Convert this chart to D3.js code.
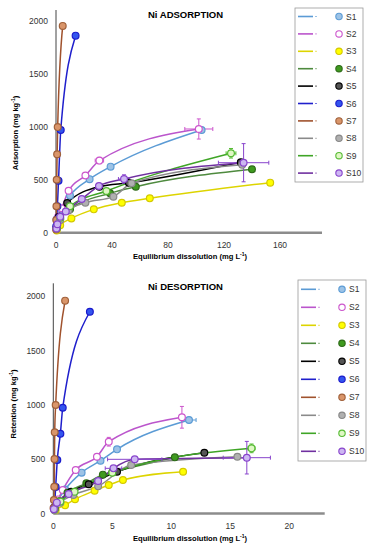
<!DOCTYPE html>
<html>
<head>
<meta charset="utf-8">
<script src="https://cdn.jsdelivr.net/npm/d3@7"></script>
<style>
  body { margin: 0; background: #fff; }
  svg { font-family: "Liberation Sans", Arial, sans-serif; }
</style>
</head>
<body>
<svg id="chart" width="376" height="550"></svg>
<script>
var series_names = ['S1','S2','S3','S4','S5','S6','S7','S8','S9','S10'];
var line_colors = ['#5b9bd5','#bb55cc','#ddd400','#4e8a3e','#000000','#1f1fcc','#a0522d','#8a8a8a','#3fa526','#7030a0'];
var fill_colors = ['#9dc3e6','#ffffff','#ffff00','#3f9a1f','#555555','#3355ee','#d9956a','#b0b0b0','#dff7c4','#cdb7f2'];
var edge_colors = ['#5b9bd5','#cc55cc','#d4c800','#2d6a18','#000000','#1a1acc','#a0603a','#888888','#55bb33','#8844cc'];

// adsorption: [equilibrium conc, adsorbed]
var ads_S1 = [[0.3,40],[1.5,130],[4,220],[10,350],[24,505],[39,623],[104,969]];
var ads_S2 = [[0.3,50],[1.5,150],[4,230],[9,395],[21,540],[31,680],[102,978]];
var ads_S3 = [[0.5,20],[3,70],[11,135],[27,220],[47,283],[67,324],[153,472]];
var ads_S4 = [[0.5,40],[3,130],[10,220],[38.6,372],[57,434],[140,598]];
var ads_S5 = [[0.5,50],[2,150],[8,280],[31,434],[52,470],[132,665]];
var ads_S6 = [[0.2,60],[0.5,125],[1,250],[1.8,490],[3.4,969],[14,1858]];
var ads_S7 = [[0.1,30],[0.2,120],[0.3,250],[0.5,500],[0.8,740],[1.2,996],[4.8,1950]];
var ads_S8 = [[0.5,40],[3,120],[9,210],[21,283],[41,340],[54,466],[133,640]];
var ads_S9 = [[0.5,45],[3,140],[10,250],[36,393],[125,749]];
var ads_S10 = [[0.3,40],[1,80],[3,150],[7,200],[18.4,318],[30.7,440],[48.6,506],[134,660]];
// [series index, x, y, x error, y error]
var ads_err = [[1,31,680,3,30],[1,102,978,10,95],[8,125,749,3.5,45],[9,48.6,506,4,40],[9,134,660,18,180]];

// desorption: [equilibrium conc, retained]
var des_S1 = [[0.1,40],[0.4,120],[1,220],[2.4,376],[4,486],[5.4,591],[11.5,861]];
var des_S2 = [[0.1,50],[0.4,130],[0.8,216],[1.9,400],[3.7,523],[4.7,661],[10.9,886]];
var des_S3 = [[0.2,30],[1.0,76],[1.84,131],[3.5,210],[4.7,262],[5.9,308],[11,385]];
var des_S4 = [[0.1,40],[0.5,110],[1.2,190],[2.8,278],[4.2,358],[5,380],[10.3,517]];
var des_S5 = [[0.1,40],[0.5,110],[1.5,200],[3,270],[5.4,385],[12.8,560]];
var des_S6 = [[0.1,60],[0.2,244],[0.34,493],[0.6,735],[0.8,974],[3.1,1858]];
var des_S7 = [[0.02,50],[0.05,124],[0.08,247],[0.1,502],[0.12,748],[0.2,999],[1.0,1960]];
var des_S8 = [[0.1,30],[0.6,100],[1.7,170],[3.8,250],[6.6,447],[15.6,523]];
var des_S9 = [[0.1,40],[0.6,110],[1.8,200],[5,376],[16.8,600]];
var des_S10 = [[0.05,40],[0.3,100],[1.3,180],[3.8,299],[5.1,416],[6.9,499],[16.4,514]];
var des_err = [[0,11.5,861,0.6,0],[1,10.9,886,0,100],[1,4.7,661,0,40],[6,1.0,1960,0.2,0],
               [4,12.8,560,0,20],[8,16.8,600,0.3,40],[9,16.4,514,2,150],[9,6.9,499,2.3,0],[9,5.1,416,0.7,0]];

var ads_ticks_x = [0,40,80,120,160];
var des_ticks_x = [0,5,10,15,20];
var y_ticks = [0,500,1000,1500,2000];

var svg = d3.select('#chart');

function draw_panel(cfg) {
  var g = svg.append('g');
  var x = d3.scaleLinear().domain(cfg.xdom).range([cfg.left, cfg.right]);
  var y = d3.scaleLinear().domain(cfg.ydom).range([cfg.bottom, cfg.top]);

  // axes
  g.append('line').attr('x1', x(0)).attr('x2', x(0)).attr('y1', y(0)).attr('y2', y(cfg.ydom[1]))
    .style('stroke', '#444').style('stroke-width', 1);
  g.append('line').attr('x1', x(0)).attr('x2', x(cfg.xdom[1])).attr('y1', y(0)).attr('y2', y(0))
    .style('stroke', '#8c8c8c').style('stroke-width', 2.5);

  g.selectAll('.ytick').data(y_ticks).enter().append('text')
    .attr('x', x(0) - 8).attr('y', d => y(d) + 3)
    .attr('text-anchor', 'end').style('font-size', '8.5px').style('fill', '#333')
    .text(d => d);
  g.selectAll('.xtick').data(cfg.xticks).enter().append('text')
    .attr('x', d => x(d)).attr('y', cfg.bottom + 15)
    .attr('text-anchor', 'middle').style('font-size', '8.5px').style('fill', '#333')
    .text(d => d);

  g.append('text').attr('x', 148).attr('y', cfg.title_y)
    .style('font-size', '9.5px').style('font-weight', 'bold').text(cfg.title);
  g.append('text').attr('x', 190).attr('y', cfg.xlabel_y).attr('text-anchor', 'middle')
    .style('font-size', '7.6px').style('font-weight', 'bold')
    .html('Equilibrium dissolution (mg L<tspan dy="-3" font-size="5px">-1</tspan><tspan dy="3">)</tspan>');
  g.append('text').attr('transform', 'translate(' + cfg.ylabel_x + ',' + cfg.ylabel_y + ') rotate(-90)')
    .attr('text-anchor', 'middle').style('font-size', '7.6px').style('font-weight', 'bold')
    .html(cfg.ylabel + ' (mg kg<tspan dy="-3" font-size="5px">-1</tspan><tspan dy="3">)</tspan>');

  var line = d3.line().x(d => x(d[0])).y(d => y(d[1])).curve(d3.curveMonotoneX);
  var lines_g = g.append('g');
  var err_g = g.append('g');
  var pts_g = g.append('g');

  cfg.data.forEach(function(pts, i) {
    lines_g.append('path').datum([[0,0]].concat(pts))
      .attr('d', line).style('fill', 'none')
      .style('stroke', line_colors[i]).style('stroke-width', 1.5);
  });

  cfg.err.forEach(function(e) {
    var c = edge_colors[e[0]];
    if (e[3] > 0) {
      err_g.append('line').attr('x1', x(e[1]-e[3])).attr('x2', x(e[1]+e[3])).attr('y1', y(e[2])).attr('y2', y(e[2]))
        .style('stroke', c).style('stroke-width', 1);
      [e[1]-e[3], e[1]+e[3]].forEach(function(v) {
        err_g.append('line').attr('x1', x(v)).attr('x2', x(v)).attr('y1', y(e[2])-2).attr('y2', y(e[2])+2)
          .style('stroke', c).style('stroke-width', 1);
      });
    }
    if (e[4] > 0) {
      err_g.append('line').attr('x1', x(e[1])).attr('x2', x(e[1])).attr('y1', y(e[2]-e[4])).attr('y2', y(e[2]+e[4]))
        .style('stroke', c).style('stroke-width', 1);
      [e[2]-e[4], e[2]+e[4]].forEach(function(v) {
        err_g.append('line').attr('x1', x(e[1])-2).attr('x2', x(e[1])+2).attr('y1', y(v)).attr('y2', y(v))
          .style('stroke', c).style('stroke-width', 1);
      });
    }
  });

  cfg.data.forEach(function(pts, i) {
    pts_g.selectAll('.pt' + i).data(pts).enter().append('circle')
      .attr('cx', d => x(d[0])).attr('cy', d => y(d[1])).attr('r', 3.4)
      .style('fill', fill_colors[i]).style('stroke', edge_colors[i]).style('stroke-width', 1.2);
  });

  // legend
  var lg = g.append('g');
  lg.append('rect').attr('x', cfg.leg_x).attr('y', cfg.leg_y).attr('width', 68).attr('height', cfg.leg_h)
    .style('fill', '#fff').style('stroke', '#999').style('stroke-width', 0.8);
  series_names.forEach(function(s, i) {
    var yy = cfg.leg_y + cfg.leg_first + i * cfg.leg_step;
    lg.append('line').attr('x1', cfg.leg_x + 3).attr('x2', cfg.leg_x + 18).attr('y1', yy).attr('y2', yy)
      .style('stroke', line_colors[i]).style('stroke-width', 1.6);
    lg.append('line').attr('x1', cfg.leg_x + 20).attr('x2', cfg.leg_x + 22).attr('y1', yy).attr('y2', yy)
      .style('stroke', line_colors[i]).style('stroke-width', 1).style('opacity', 0.6);
    lg.append('circle').attr('cx', cfg.leg_x + 44).attr('cy', yy).attr('r', 3.2)
      .style('fill', fill_colors[i]).style('stroke', edge_colors[i]).style('stroke-width', 1.1);
    lg.append('text').attr('x', cfg.leg_x + 51).attr('y', yy + 3)
      .style('font-size', '8.5px').style('fill', '#333').text(s);
  });
}

draw_panel({
  xdom: [0, 190], ydom: [0, 2100], left: 56, right: 322, top: 10, bottom: 232.7,
  xticks: ads_ticks_x, title: 'Ni ADSORPTION', title_y: 18, xlabel_y: 259,
  ylabel: 'Adsorption', ylabel_x: 18, ylabel_y: 133,
  data: [ads_S1, ads_S2, ads_S3, ads_S4, ads_S5, ads_S6, ads_S7, ads_S8, ads_S9, ads_S10],
  err: ads_err, leg_x: 295, leg_y: 8, leg_h: 174, leg_first: 8.5, leg_step: 17.4
});

draw_panel({
  xdom: [0, 23], ydom: [0, 2120], left: 53.3, right: 324.7, top: 283.3, bottom: 513.5,
  xticks: des_ticks_x, title: 'Ni DESORPTION', title_y: 290, xlabel_y: 541,
  ylabel: 'Retention', ylabel_x: 16, ylabel_y: 404,
  data: [des_S1, des_S2, des_S3, des_S4, des_S5, des_S6, des_S7, des_S8, des_S9, des_S10],
  err: des_err, leg_x: 298, leg_y: 280, leg_h: 181, leg_first: 9.3, leg_step: 18
});
</script>
</body>
</html>
